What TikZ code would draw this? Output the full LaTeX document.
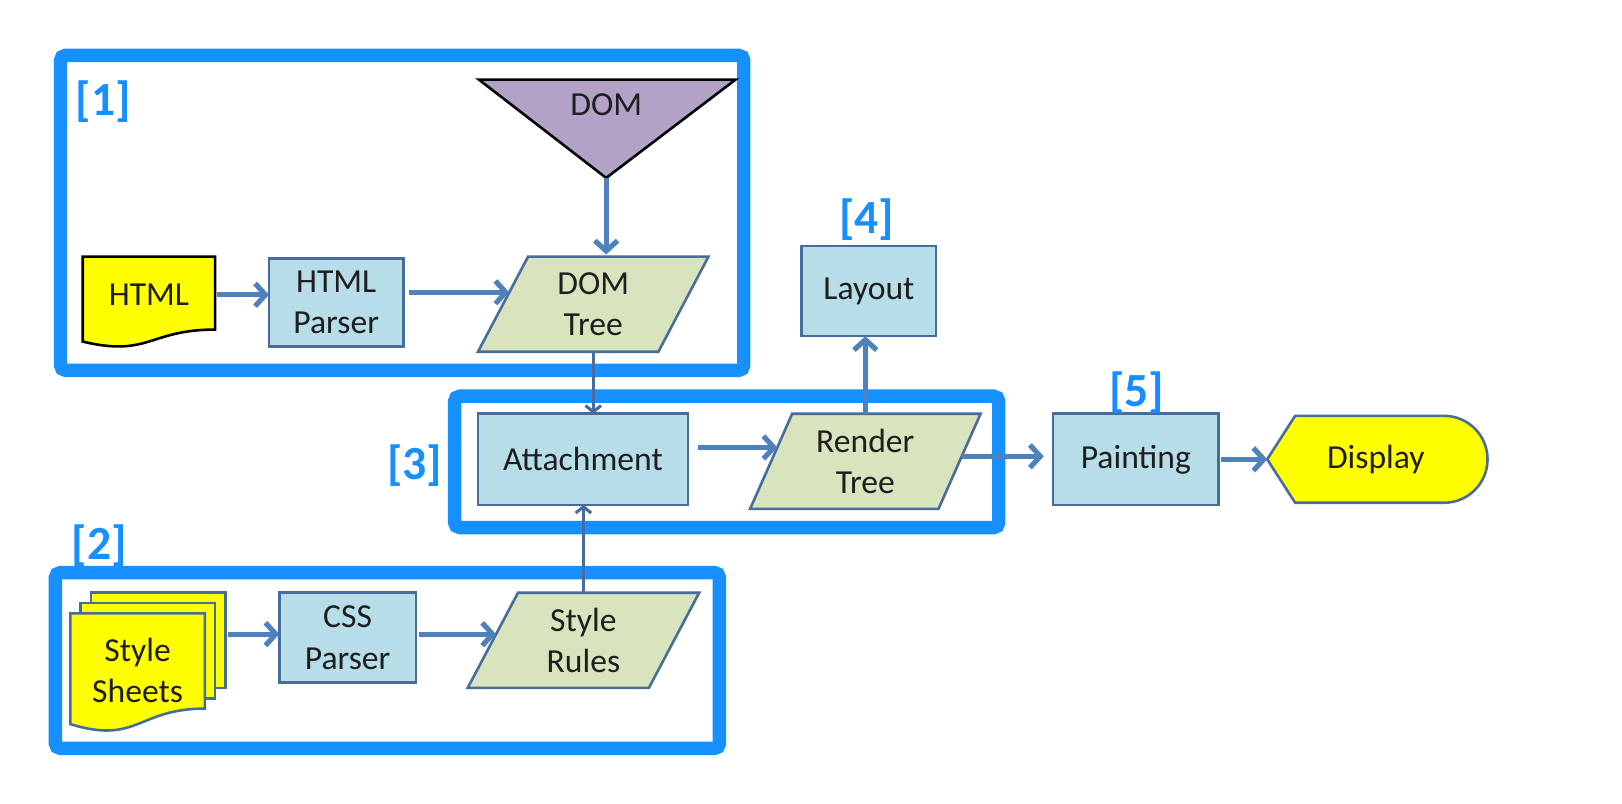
\documentclass[tikz,border=0pt]{standalone}
\usepackage{fontspec}
\setmainfont{Carlito}
\usetikzlibrary{arrows.meta,shapes.geometric}
\definecolor{frameblue}{RGB}{22,143,255}
\definecolor{boxfill}{RGB}{183,221,232}
\definecolor{boxline}{RGB}{72,108,155}
\definecolor{arrowcol}{RGB}{79,129,189}
\definecolor{greenfill}{RGB}{215,228,189}
\definecolor{purplefill}{RGB}{179,162,199}
\definecolor{docyellow}{RGB}{255,255,0}
\definecolor{textcol}{RGB}{30,30,30}
\begin{document}
\begin{tikzpicture}[x=1pt,y=-1pt,
  frame/.style={draw=frameblue, line width=13pt, rounded corners=5pt},
  txt/.style={font=\fontsize{32.5}{40}\selectfont, align=center, text=textcol, inner sep=0pt, outer sep=0pt},
  box/.style={txt, draw=boxline, fill=boxfill, line width=2.5pt, rectangle},
  para/.style={txt, draw=boxline, fill=greenfill, line width=2.5pt, trapezium, trapezium stretches=true, trapezium left angle=66.5, trapezium right angle=113.5},
  doc/.style={draw=black, fill=docyellow, line width=2.5pt},
  sheet/.style={draw=boxline, fill=docyellow, line width=2.5pt},
  arr/.style={draw=arrowcol, line width=5pt, -{Straight Barb[length=10pt,width=22pt,line width=5pt]}},
  thinarr/.style={draw=boxline, line width=3pt, -{Straight Barb[length=6pt,width=15pt,line width=3pt]}},
  lbl/.style={font=\fontsize{46}{46}\selectfont\bfseries, text=frameblue, inner sep=0pt}
]
\useasboundingbox (0,0) rectangle (1568,777);
\fill[white] (0,0) rectangle (1568,777);

% frames
\draw[frame] (58.5,53.5) rectangle (719,358);
\draw[frame] (439.5,383) rectangle (965.5,510);
\draw[frame] (53.5,553.5) rectangle (695.5,723.5);

% group 1
\draw[doc] (80,248) -- (208,248) -- (208,318.6) .. controls (144,318.6) and (144,345.5) .. (80,330.2) -- cycle;
\node[txt, minimum width=128pt, minimum height=70pt] (html) at (144,285) {HTML};
\node[box, minimum width=130pt, minimum height=85pt] (parser) at (325,292.5) {HTML\\Parser};
\draw[draw=black, fill=purplefill, line width=2.5pt, line join=miter] (463,77) -- (711,77) -- (586,172) -- cycle;
\node[txt] (dom) at (586,101) {DOM};
\coordinate (domtip) at (586,172);
\node[para, minimum width=223pt, minimum height=92pt] (domtree) at (573.5,294) {DOM\\Tree};

% group 3
\node[box, minimum width=203pt, minimum height=88pt] (attach) at (563.5,444) {Attachment};
\node[para, minimum width=223pt, minimum height=92pt] (render) at (836.5,446) {Render\\Tree};
\node[box, minimum width=130pt, minimum height=87pt] (layout) at (840,281.5) {Layout};
\node[box, minimum width=160pt, minimum height=88pt] (painting) at (1098,444) {Painting};
\draw[draw=boxline, fill=docyellow, line width=2.5pt] (1225,444) -- (1252,402) -- (1396,402) arc[start angle=90, end angle=-90, radius=42pt] -- (1252,486) -- cycle;
\node[txt, minimum width=213pt, minimum height=84pt] (display) at (1331.5,444) {\hspace*{-3pt}Display};

% group 2
\draw[sheet] (88,573) rectangle (218,665);
\draw[sheet] (78,583) rectangle (208,675);
\draw[sheet] (68,593) -- (198,593) -- (198,685) .. controls (133,685) and (133,720) .. (68,700) -- cycle;
\node[txt] (sheets) at (133,648) {Style\\Sheets};
\coordinate (sheetsout) at (220,613);
\node[box, minimum width=132pt, minimum height=87pt] (css) at (336,616.5) {CSS\\Parser};
\node[para, minimum width=224pt, minimum height=92pt] (rules) at (564,619) {Style\\Rules};

% connectors
\draw[arr, shorten <=2pt] (html.east) -- (html.east -| parser.west);
\draw[arr, shorten <=5pt] (parser.east |- domtree.172.8) -- (domtree.172.8);
\draw[arr, shorten >=2pt] (domtip) -- (domtip |- domtree.north);
\draw[thinarr] (domtree.center |- domtree.south) -- (domtree.center |- attach.north);
\draw[thinarr] (rules.center |- rules.north) -- (rules.center |- attach.south);
\draw[arr, shorten <=10pt] (attach.east |- render.171.4) -- (render.171.4);
\draw[arr] (render.center |- render.north) -- (render.center |- layout.south);
\draw[arr, shorten >=9pt] (render.3.7) -- (render.3.7 -| painting.west);
\draw[arr, shorten <=2pt] (painting.east) -- (display.west);
\draw[arr] (sheetsout) -- (sheetsout -| css.west);
\draw[arr, shorten <=3pt] (css.east |- rules.176.2) -- (rules.176.2);

% labels
\node[lbl] (lab1) at (100,98) {[1]};
\node[lbl] (lab2) at (96,527) {[2]};
\node[lbl] (lab3) at (401,450) {[3]};
\node[lbl] (lab4) at (838,212) {[4]};
\node[lbl] (lab5) at (1099,380) {[5]};
\end{tikzpicture}
\end{document}
